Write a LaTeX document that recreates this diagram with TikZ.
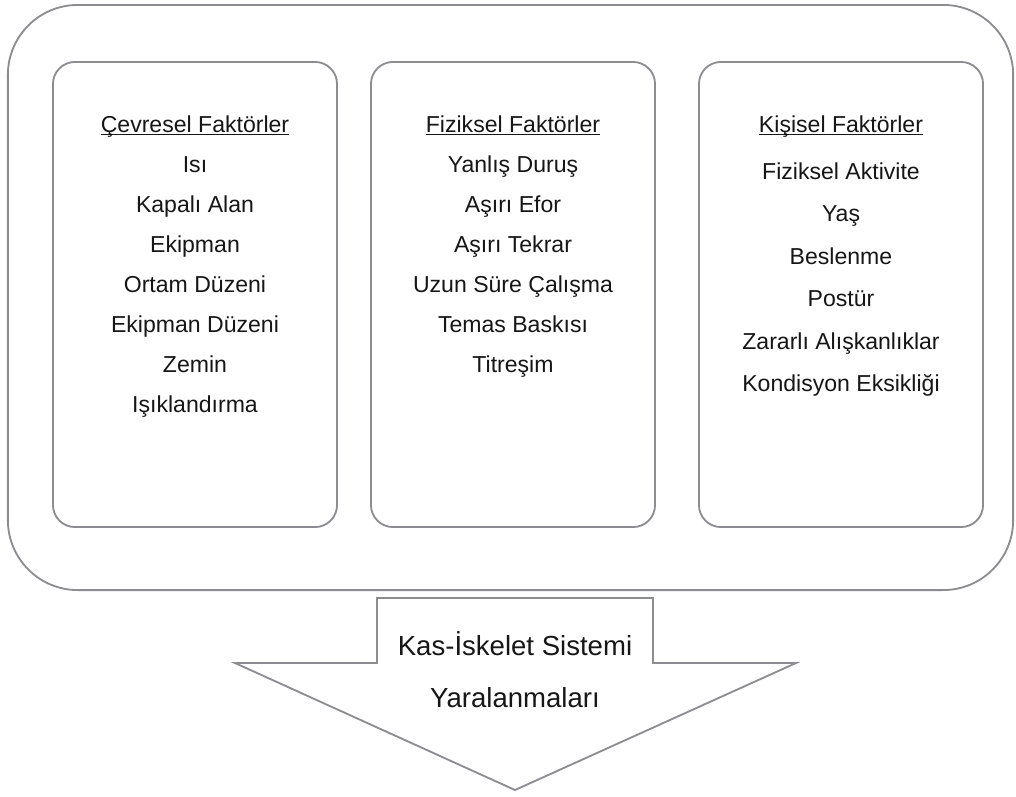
\documentclass[tikz,border=0pt]{standalone}
\usepackage{fontspec}
\setmainfont{Liberation Sans}
\usepackage{tikz}
\usetikzlibrary{calc}
\definecolor{FrameGray}{RGB}{140,140,145}
\definecolor{InkBlack}{RGB}{22,22,22}
\newsavebox{\hdrbox}
\newcommand{\hdrline}[1]{\sbox{\hdrbox}{#1}\rlap{\rule[-2pt]{\wd\hdrbox}{0.8pt}}\usebox{\hdrbox}}

\begin{document}
\begin{tikzpicture}[x=0.025cm,y=-0.025cm,
	outerframe/.style={draw=FrameGray,line width=1.3pt,rounded corners=1.75cm,
		minimum width=25.125cm,minimum height=14.625cm,inner sep=0pt},
	factorbox/.style={draw=FrameGray,line width=1.3pt,rounded corners=0.55cm,
		minimum width=7.1cm,minimum height=11.625cm,inner sep=0pt},
	item/.style={anchor=base,inner sep=0pt,text=InkBlack,font=\fontsize{16.4}{19}\selectfont},
	arrowtext/.style={anchor=base,inner sep=0pt,text=InkBlack,font=\fontsize{19.6}{23}\selectfont}]
		\useasboundingbox (0,0) rectangle (1016,796);
		
		% dis cerceve
		\node[outerframe] (outer) at (510.5,297.5) {};
		
		% uc kutu
		\node[factorbox] (cevre) at (195,294.5) {};
		\node[factorbox] (fizik) at (513,294.5) {};
		\node[factorbox] (kisi) at (841,294.5) {};
		
		% basliklar
		\node[item] (cevreH) at (195,132) {\hdrline{Çevresel Faktörler}};
		\node[item] (fizikH) at (513,132) {\hdrline{Fiziksel Faktörler}};
		\node[item] (kisiH) at (841,132) {\hdrline{Kişisel Faktörler}};
		
		% maddeler
		\foreach \t [count=\i] in {Isı,Kapalı Alan,Ekipman,Ortam Düzeni,Ekipman Düzeni,Zemin,Işıklandırma}
			\node[item] (cevre\i) at (195,{132+40*\i}) {\t};
		\foreach \t [count=\i] in {Yanlış Duruş,Aşırı Efor,Aşırı Tekrar,Uzun Süre Çalışma,Temas Baskısı,Titreşim}
			\node[item] (fizik\i) at (513,{132+40*\i}) {\t};
		\foreach \t [count=\i] in {Fiziksel Aktivite,Yaş,Beslenme,Postür,Zararlı Alışkanlıklar,Kondisyon Eksikliği}
			\node[item] (kisi\i) at (841,{136.5+42.5*\i}) {\t};
		
		% ok
		\coordinate (stemL) at (377,598);
		\coordinate (stemR) at (653,598);
		\coordinate (shoulderR) at (653,663);
		\coordinate (wingR) at (796,663);
		\coordinate (tip) at (515,790);
		\coordinate (wingL) at (235,663);
		\coordinate (shoulderL) at (377,663);
		\draw[FrameGray,line width=1.3pt,line join=miter,fill=white]
			(stemL) -- (stemR) -- (shoulderR) -- (wingR) -- (tip) -- (wingL) -- (shoulderL) -- cycle;
		
		\node[arrowtext] (sonuc1) at (515,655) {Kas-İskelet Sistemi};
		\node[arrowtext] (sonuc2) at (515,707) {Yaralanmaları};
	\end{tikzpicture}
\end{document}
